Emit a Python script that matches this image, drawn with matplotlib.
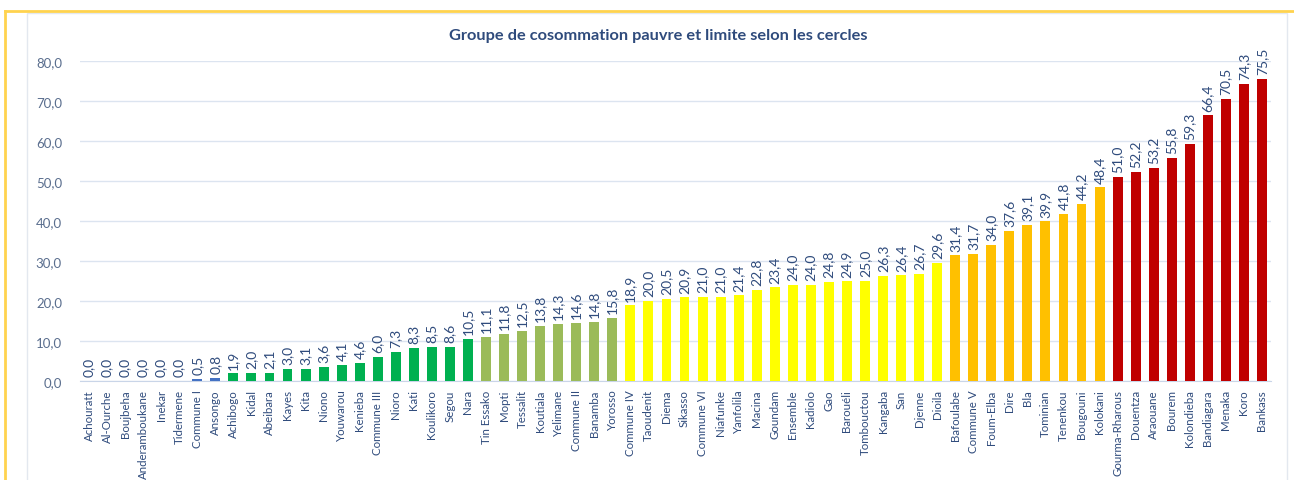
import matplotlib.pyplot as plt
from matplotlib.lines import Line2D
from matplotlib.patches import Rectangle

# cercles, triés par valeur croissante
cercles = [
    "Achouratt", "Al-Ourche", "Boujbeha", "Anderamboukane", "Inekar", "Tidermene",
    "Commune I", "Ansongo", "Achibogo", "Kidal", "Abeibara", "Kayes", "Kita",
    "Niono", "Youwarou", "Kenieba", "Commune III", "Nioro", "Kati", "Koulikoro",
    "Segou", "Nara", "Tin Essako", "Mopti", "Tessalit", "Koutiala", "Yelimane",
    "Commune II", "Banamba", "Yorosso", "Commune IV", "Taoudenit", "Diema",
    "Sikasso", "Commune VI", "Niafunke", "Yanfolila", "Macina", "Goundam",
    "Ensemble", "Kadiolo", "Gao", "Barouéli", "Tombouctou", "Kangaba", "San",
    "Djenne", "Dioila", "Bafoulabe", "Commune V", "Foum-Elba", "Dire", "Bla",
    "Tominian", "Tenenkou", "Bougouni", "Kolokani", "Gourma-Rharous", "Douentza",
    "Araouane", "Bourem", "Kolondieba", "Bandiagara", "Menaka", "Koro", "Bankass",
]
valeurs = [
    0.0, 0.0, 0.0, 0.0, 0.0, 0.0, 0.5, 0.8, 1.9, 2.0, 2.1, 3.0, 3.1, 3.6, 4.1,
    4.6, 6.0, 7.3, 8.3, 8.5, 8.6, 10.5, 11.1, 11.8, 12.5, 13.8, 14.3, 14.6,
    14.8, 15.8, 18.9, 20.0, 20.5, 20.9, 21.0, 21.0, 21.4, 22.8, 23.4, 24.0,
    24.0, 24.8, 24.9, 25.0, 26.3, 26.4, 26.7, 29.6, 31.4, 31.7, 34.0, 37.6,
    39.1, 39.9, 41.8, 44.2, 48.4, 51.0, 52.2, 53.2, 55.8, 59.3, 66.4, 70.5,
    74.3, 75.5,
]
# groupe de couleur pour chaque cercle
groupes = (["bleu"] * 8 + ["vert"] * 14 + ["olive"] * 8 + ["jaune"] * 18
           + ["orange"] * 9 + ["rouge"] * 9)

COULEURS = {
    "bleu": "#4472C4",
    "vert": "#00B050",
    "olive": "#9BBB59",
    "jaune": "#FFFF00",
    "orange": "#FFC000",
    "rouge": "#C00000",
}

TXT = "#2F4B7C"

plt.rcParams['font.family'] = ['Lato', 'DejaVu Sans']

fig = plt.figure(figsize=(12.94, 4.81), dpi=100)
ax = fig.add_axes([80 / 1294, 99 / 481, 1191 / 1294, 320 / 481])

x = list(range(len(cercles)))
ax.bar(x, valeurs, width=0.55, color=[COULEURS[g] for g in groupes], zorder=3)

for xi, v in zip(x, valeurs):
    ax.text(xi, v + 1.2, f"{v:.1f}".replace(".", ","), rotation=90,
            ha="center", va="bottom", fontsize=10, color=TXT)

ax.set_xlim(-0.5, len(cercles) - 0.5)
ax.set_ylim(0, 80)
ax.set_yticks(range(0, 81, 10))
ax.set_yticklabels([f"{t:.1f}".replace(".", ",") for t in range(0, 81, 10)],
                   fontsize=9.5, color="#5A6E8E")
ax.set_xticks(x)
ax.set_xticklabels(cercles, rotation=90, fontsize=8.3, color=TXT)
ax.tick_params(length=0, pad=6)
ax.tick_params(axis="y", pad=13)
ax.grid(axis="y", color="#DCE4F0", linewidth=1, zorder=0)
for s in ["top", "right", "left"]:
    ax.spines[s].set_visible(False)
ax.spines["bottom"].set_color("#C9D5E8")

fig.text(658 / 1294, 1 - 36 / 481,
         "Groupe de cosommation pauvre et limite selon les cercles",
         ha="center", va="center", fontsize=11.8, fontweight="bold", color="#2F4B7C")

# cadre intérieur gris clair et bordure dorée
fig.add_artist(Rectangle((27 / 1294, -0.05), (1287 - 27) / 1294, 1 - 14 / 481 + 0.05,
                         transform=fig.transFigure, fill=False,
                         edgecolor="#E3E8EF", linewidth=1))
fig.add_artist(Line2D([5 / 1294, 1.0], [1 - 12 / 481, 1 - 12 / 481],
                      transform=fig.transFigure, color="#FFD34E", linewidth=2))
fig.add_artist(Line2D([5 / 1294, 5 / 1294], [0, 1 - 12 / 481],
                      transform=fig.transFigure, color="#FFD34E", linewidth=2))

fig.savefig("out.png", dpi=100)
